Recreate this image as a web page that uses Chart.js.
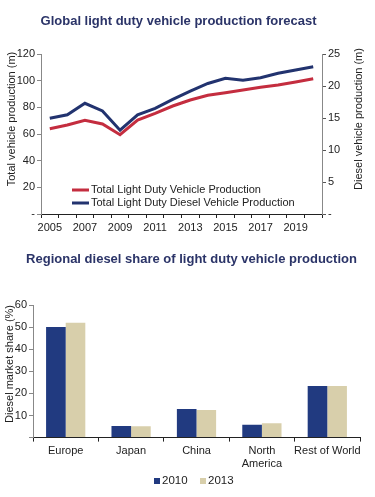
<!DOCTYPE html>
<html>
<head>
<meta charset="utf-8">
<script src="https://cdn.jsdelivr.net/npm/chart.js@4.4.1/dist/chart.umd.min.js"></script>
<style>
  body { margin: 0; background: #fff; }
  #top { position: absolute; left: 0; top: 0; width: 375px; height: 240px; }
  #bottom { position: absolute; left: 0; top: 240px; width: 375px; height: 257px; }
</style>
</head>
<body>
<div id="top"><canvas id="lineChart"></canvas></div>
<div id="bottom"><canvas id="barChart"></canvas></div>
<script>
// top chart data
const years = ['2005', '2006', '2007', '2008', '2009', '2010', '2011', '2012', '2013', '2014', '2015', '2016', '2017', '2018', '2019', '2020'];
const totalProduction = [64, 66.7, 70.3, 67.5, 59.5, 70.5, 75.5, 81, 85.5, 89, 91, 93, 95, 96.7, 99, 101.5];
const dieselProduction = [14.95, 15.5, 17.3, 16.1, 13.1, 15.5, 16.5, 17.9, 19.2, 20.4, 21.2, 20.9, 21.3, 22.0, 22.5, 23.0];

// bottom chart data
const regions = ['Europe', 'Japan', 'China', ['North', 'America'], 'Rest of World'];
const share2010 = [50, 5.2, 12.9, 5.8, 23.4];
const share2013 = [52, 5.1, 12.5, 6.5, 23.4];

const FONT = 'Liberation Sans, Arial, sans-serif';
const TITLE_COLOR = '#2b3468';
const RED = '#c42d3f';
const NAVY = '#22336f';
const BAR_NAVY = '#213a80';
const BEIGE = '#d8cfab';

Chart.defaults.font.family = FONT;
Chart.defaults.color = '#222';
Chart.defaults.animation = false;

function rotatedText(ctx, text, x, y) {
    ctx.save();
    ctx.translate(x, y);
    ctx.rotate(-Math.PI / 2);
    ctx.textAlign = 'center';
    ctx.textBaseline = 'middle';
    ctx.font = '11px ' + FONT;
    ctx.fillStyle = '#222';
    ctx.fillText(text, 0, 0);
    ctx.restore();
}

function titleText(ctx, text, x, y) {
    ctx.save();
    ctx.font = 'bold 13px ' + FONT;
    ctx.fillStyle = TITLE_COLOR;
    ctx.textAlign = 'center';
    ctx.textBaseline = 'middle';
    ctx.fillText(text, x, y);
    ctx.restore();
}

// title, legend inside the plot, both axis titles reading bottom to top
const topExtras = {
    id: 'topExtras',
    afterDraw(chart) {
        let ctx = chart.ctx;
        titleText(ctx, 'Global light duty vehicle production forecast', 178.5, 21);
        ctx.save();
        let items = [
            {text: 'Total Light Duty Vehicle Production', color: RED, y: 190},
            {text: 'Total Light Duty Diesel Vehicle Production', color: NAVY, y: 203}
        ];
        ctx.font = '11px ' + FONT;
        ctx.textBaseline = 'middle';
        items.forEach(function (it) {
            ctx.strokeStyle = it.color;
            ctx.lineWidth = 3;
            ctx.beginPath();
            ctx.moveTo(72, it.y);
            ctx.lineTo(89, it.y);
            ctx.stroke();
            ctx.fillStyle = '#222';
            ctx.fillText(it.text, 91, it.y);
        });
        ctx.restore();
        rotatedText(ctx, 'Total vehicle production (m)', 12, 119);
        rotatedText(ctx, 'Diesel vehicle production (m)', 359, 119);
    }
};

const bottomExtras = {
    id: 'bottomExtras',
    afterDraw(chart) {
        let ctx = chart.ctx;
        titleText(ctx, 'Regional diesel share of light duty vehicle production', 191.5, 19.5);
        rotatedText(ctx, 'Diesel market share (%)', 10, 124);
        // legend below the axis
        ctx.save();
        ctx.font = '11.5px ' + FONT;
        ctx.textBaseline = 'middle';
        chart.data.datasets.forEach(function (ds, i) {
            let x = 154 + i * 46;
            ctx.fillStyle = ds.backgroundColor;
            ctx.fillRect(x, 238, 6, 6);
            ctx.fillStyle = '#222';
            ctx.fillText(ds.label, x + 8, 241);
        });
        ctx.restore();
    }
};

new Chart(document.getElementById('lineChart'), {
    type: 'line',
    data: {
        labels: years,
        datasets: [
            {
                label: 'Total Light Duty Vehicle Production',
                data: totalProduction,
                borderColor: RED,
                borderWidth: 3,
                pointRadius: 0,
                tension: 0,
                yAxisID: 'y'
            },
            {
                label: 'Total Light Duty Diesel Vehicle Production',
                data: dieselProduction,
                borderColor: NAVY,
                borderWidth: 3,
                pointRadius: 0,
                tension: 0,
                yAxisID: 'y1'
            }
        ]
    },
    options: {
        responsive: true,
        maintainAspectRatio: false,
        layout: {padding: {top: 54, bottom: 0, left: 0, right: 0}},
        plugins: {
            legend: {display: false},
            tooltip: {enabled: false},
            title: {display: false}
        },
        scales: {
            x: {
                offset: true,
                grid: {display: true, drawOnChartArea: false, offset: true, tickLength: 4, color: '#222'},
                border: {color: '#222'},
                ticks: {
                    autoSkip: false,
                    maxRotation: 0,
                    font: {size: 11},
                    padding: 3,
                    callback: function (val, i) { return i % 2 === 0 ? this.getLabelForValue(val) : ''; }
                },
                afterFit: function (scale) { scale.height = 26; }
            },
            y: {
                position: 'left',
                min: 0, max: 120,
                ticks: {stepSize: 20, font: {size: 11}, padding: 2,
                    callback: function (v) { return v === 0 ? '-' : v; }},
                grid: {drawOnChartArea: false, tickLength: 4, color: '#888'},
                border: {color: '#888'},
                afterFit: function (scale) { scale.width = 41; }
            },
            y1: {
                position: 'right',
                min: 0, max: 25,
                ticks: {stepSize: 5, font: {size: 11}, padding: 2,
                    callback: function (v) { return v === 0 ? '-' : v; }},
                grid: {drawOnChartArea: false, tickLength: 4, color: '#555'},
                border: {color: '#888'},
                afterFit: function (scale) { scale.width = 53; }
            }
        }
    },
    plugins: [topExtras]
});

new Chart(document.getElementById('barChart'), {
    type: 'bar',
    data: {
        labels: regions,
        datasets: [
            {label: '2010', data: share2010, backgroundColor: BAR_NAVY, categoryPercentage: 0.6, barPercentage: 1.0},
            {label: '2013', data: share2013, backgroundColor: BEIGE, categoryPercentage: 0.6, barPercentage: 1.0}
        ]
    },
    options: {
        responsive: true,
        maintainAspectRatio: false,
        layout: {padding: {top: 65, bottom: 23, left: 0, right: 15}},
        plugins: {
            tooltip: {enabled: false},
            title: {display: false},
            legend: {display: false}
        },
        scales: {
            x: {
                grid: {display: true, drawOnChartArea: false, offset: true, tickLength: 4, color: '#222'},
                border: {color: '#222'},
                ticks: {autoSkip: false, maxRotation: 0, font: {size: 11}, padding: 3}
            },
            y: {
                min: 0, max: 60,
                ticks: {stepSize: 10, font: {size: 11}, padding: 2,
                    callback: function (v) { return v === 0 ? '' : v; }},
                grid: {drawOnChartArea: false, tickLength: 4, color: '#888'},
                border: {color: '#888'},
                afterFit: function (scale) { scale.width = 33; }
            }
        }
    },
    plugins: [bottomExtras]
});
</script>
</body>
</html>
